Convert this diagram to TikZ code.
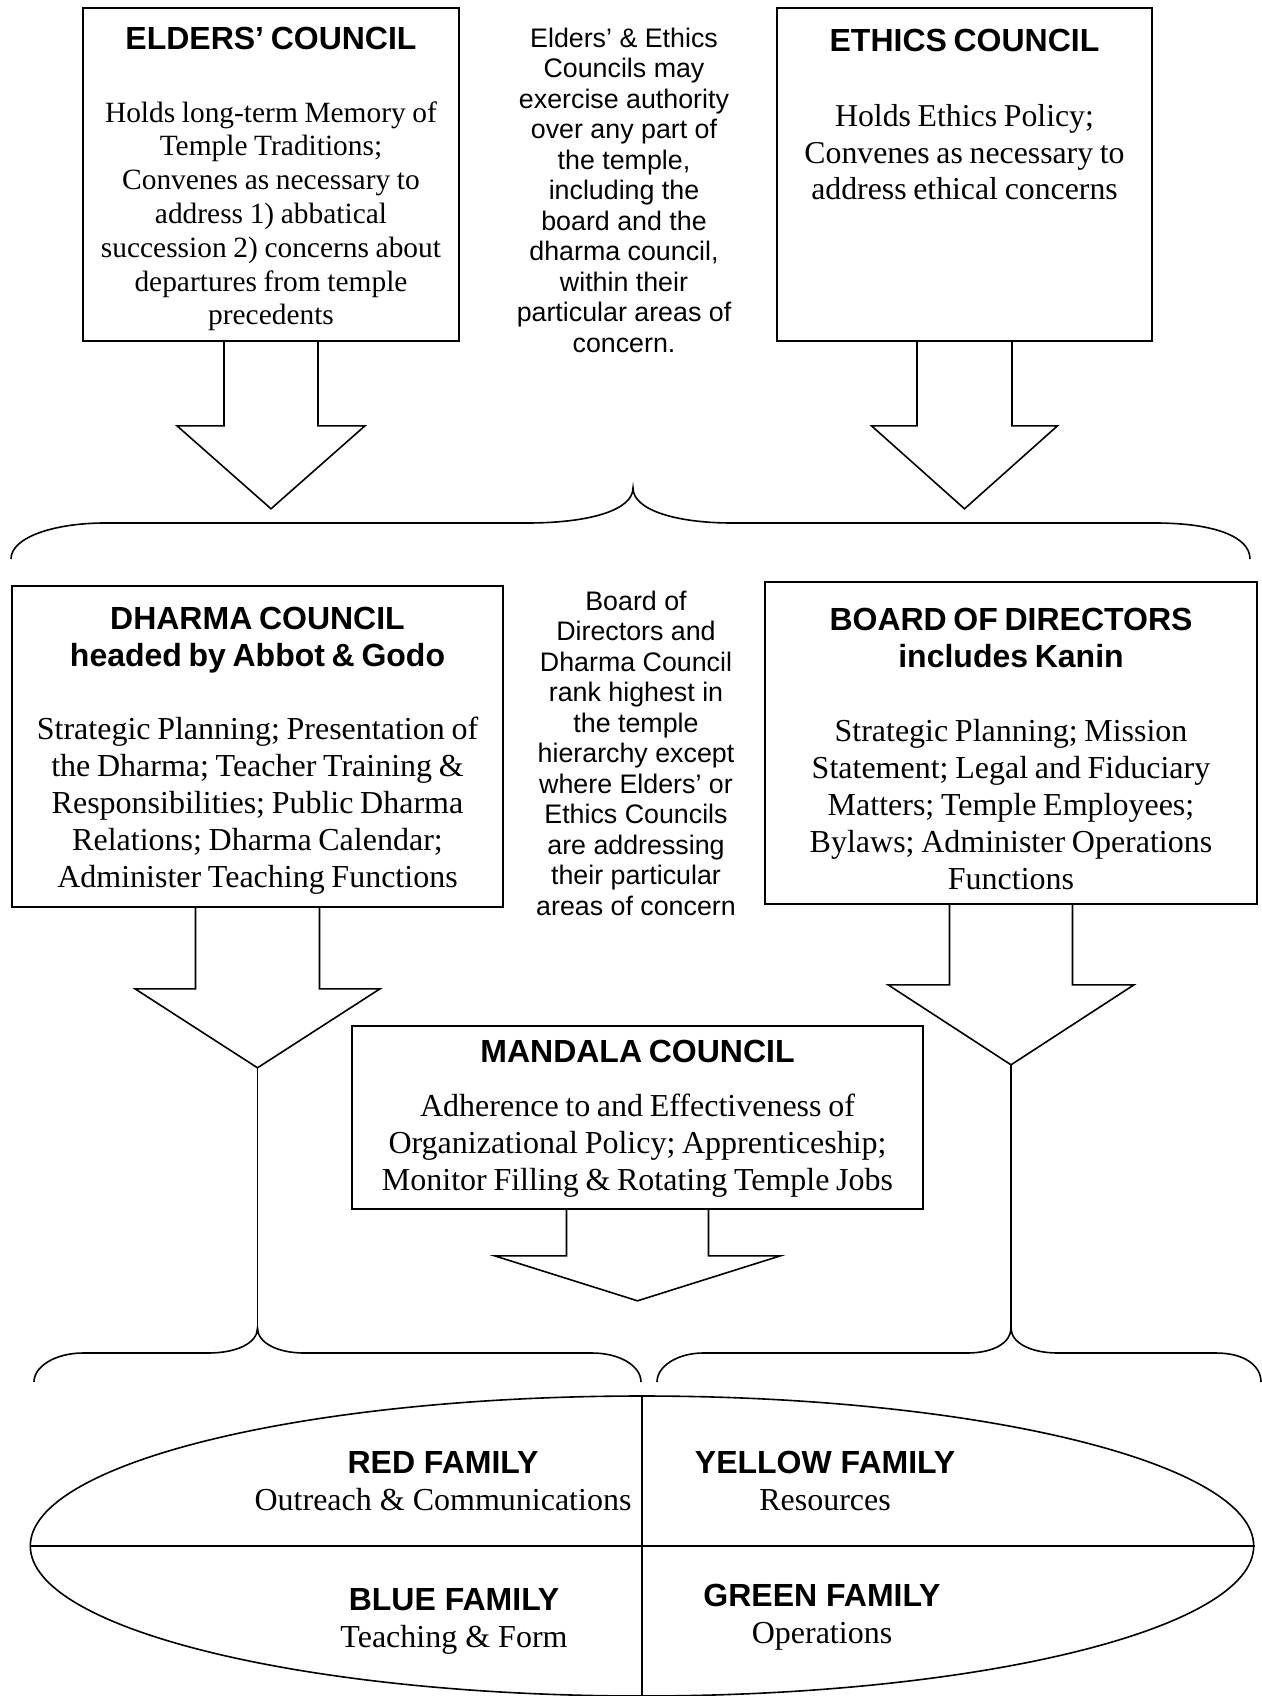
\documentclass[tikz,border=0pt]{standalone}
\usepackage{fontspec}
\setmainfont{Liberation Serif}
\setsansfont{Liberation Sans}
\usetikzlibrary{positioning,shapes.geometric}

\newcommand{\councilhead}{\sffamily\bfseries\fontsize{16}{18.5}\selectfont}
\newcommand{\sidenotefont}{\sffamily\fontsize{13.4}{15.25}\selectfont}

\tikzset{
    council/.style={draw, line width=0.8pt, inner sep=0pt},
    counciltext/.style={align=center, inner sep=0pt},
    sidenote/.style={align=center, inner sep=0pt, font=\sidenotefont},
    family/.style={align=center, inner sep=0pt, font=\fontsize{16}{18.5}\selectfont},
    outline/.style={line width=0.8pt, line join=miter}
}

\begin{document}
\begin{tikzpicture}[x=0.5pt, y=-0.5pt]
        \useasboundingbox (0,0) rectangle (1262,1696);

        % top row
        \node[council, minimum width=188pt, minimum height=166.5pt] (elders) at (271,174.5) {};
        \node[counciltext, text width=180pt, below=9.7pt of elders.north] (elders-text)
            {{\councilhead ELDERS’ COUNCIL\par}\vskip 19.5pt
             \fontsize{14.7}{16.9}\selectfont Holds long-term Memory of\\ Temple Traditions;\\ Convenes as necessary to\\ address 1) abbatical\\ succession 2) concerns about\\ departures from temple\\ precedents\par};

        \node[council, minimum width=187.5pt, minimum height=166.5pt] (ethics) at (964.5,174.5) {};
        \node[counciltext, text width=180pt, below=10.75pt of ethics.north] (ethics-text)
            {{\councilhead ETHICS COUNCIL\par}\vskip 19.5pt
             \fontsize{15.9}{18.25}\selectfont Holds Ethics Policy;\\ Convenes as necessary to\\ address ethical concerns\par};

        \node[sidenote] (authority) at (624,190)
            {Elders’ \& Ethics\\ Councils may\\ exercise authority\\ over any part of\\ the temple,\\ including the\\ board and the\\ dharma council,\\ within their\\ particular areas of\\ concern.};

        % middle row
        \node[council, minimum width=245.5pt, minimum height=160.5pt] (dharma) at (257.5,746.5) {};
        \node[counciltext, text width=238pt, below=11pt of dharma.north] (dharma-text)
            {{\councilhead DHARMA COUNCIL\\ headed by Abbot \& Godo\par}\vskip 18pt
             \fontsize{16}{18.5}\selectfont Strategic Planning; Presentation of\\ the Dharma; Teacher Training \&\\ Responsibilities; Public Dharma\\ Relations; Dharma Calendar;\\ Administer Teaching Functions\par};

        \node[council, minimum width=246pt, minimum height=161pt] (board) at (1011,743) {};
        \node[counciltext, text width=238pt, below=13.5pt of board.north] (board-text)
            {{\councilhead BOARD OF DIRECTORS\\ includes Kanin\par}\vskip 18.5pt
             \fontsize{16}{18.5}\selectfont Strategic Planning; Mission\\ Statement; Legal and Fiduciary\\ Matters; Temple Employees;\\ Bylaws; Administer Operations\\ Functions\par};

        \node[sidenote] (ranking) at (636,753)
            {Board of\\ Directors and\\ Dharma Council\\ rank highest in\\ the temple\\ hierarchy except\\ where Elders’ or\\ Ethics Councils\\ are addressing\\ their particular\\ areas of concern};

        \node[council, minimum width=285.5pt, minimum height=91.5pt] (mandala) at (637.5,1117.5) {};
        \node[counciltext, text width=278pt, below=7.3pt of mandala.north] (mandala-text)
            {{\councilhead MANDALA COUNCIL\par}\vskip 8.3pt
             \fontsize{16}{18.5}\selectfont Adherence to and Effectiveness of\\ Organizational Policy; Apprenticeship;\\ Monitor Filling \& Rotating Temple Jobs\par};

        % block arrows under the boxes
        \foreach \n/\sw/\sl/\hw/\hl in {elders/47/84/94/83, ethics/47.5/84/93/83,
                dharma/62/81/122.5/79, board/61.5/80/123/80, mandala/71/46/143/45}
            \draw[outline] (\n.south) ++(-\sw,0) -- ++(0,\sl) -- ++(\sw-\hw,0)
                -- ++(\hw,\hl) coordinate (\n-tip) -- ++(\hw,-\hl) -- ++(\sw-\hw,0) -- ++(0,-\sl);

        % braces
        \coordinate (upper-cusp) at (633,488);
        \coordinate (left-cusp) at (257.5,1328);
        \coordinate (right-cusp) at (1011,1328);

        \draw[outline] (11,559) .. controls (11,537) and (55,523) .. (105,523) -- (527,523)
            .. controls (590,523) and (633,510) .. (upper-cusp)
            .. controls (633,510) and (676,523) .. (732,523) -- (1155,523)
            .. controls (1215,523) and (1250,537) .. (1250,559);

        \draw[outline] (34,1382) .. controls (34,1366) and (56,1353) .. (83,1353) -- (208,1353)
            .. controls (237,1353) and (257.5,1343) .. (left-cusp)
            .. controls (257.5,1343) and (278,1353) .. (304,1353) -- (592,1353)
            .. controls (620,1353) and (641,1366) .. (641,1382);

        \draw[outline] (657,1382) .. controls (657,1366) and (678,1353) .. (703,1353) -- (967,1353)
            .. controls (993,1353) and (1011,1343) .. (right-cusp)
            .. controls (1011,1343) and (1031,1353) .. (1058,1353) -- (1216,1353)
            .. controls (1245,1353) and (1261,1366) .. (1261,1382);

        \draw[outline] (dharma-tip) -- (left-cusp);
        \draw[outline] (board-tip) -- (right-cusp);

        % families
        \node[draw, ellipse, line width=0.8pt, inner sep=0pt, minimum width=611.7pt, minimum height=150pt] (families) at (642,1546) {};
        \draw[outline] (families.west) -- (families.east);
        \draw[outline] (families.north) -- (families.south);

        \node[family] (red) at (443,1481) {{\councilhead RED FAMILY}\\ Outreach \& Communications};
        \node[family] (yellow) at (825,1481) {{\councilhead YELLOW FAMILY}\\ Resources};
        \node[family] (blue) at (454,1621) {{\councilhead BLUE FAMILY}\\ Teaching \& Form};
        \node[family] (green) at (822,1617) {{\councilhead GREEN FAMILY}\\ Operations};

    \end{tikzpicture}
\end{document}
